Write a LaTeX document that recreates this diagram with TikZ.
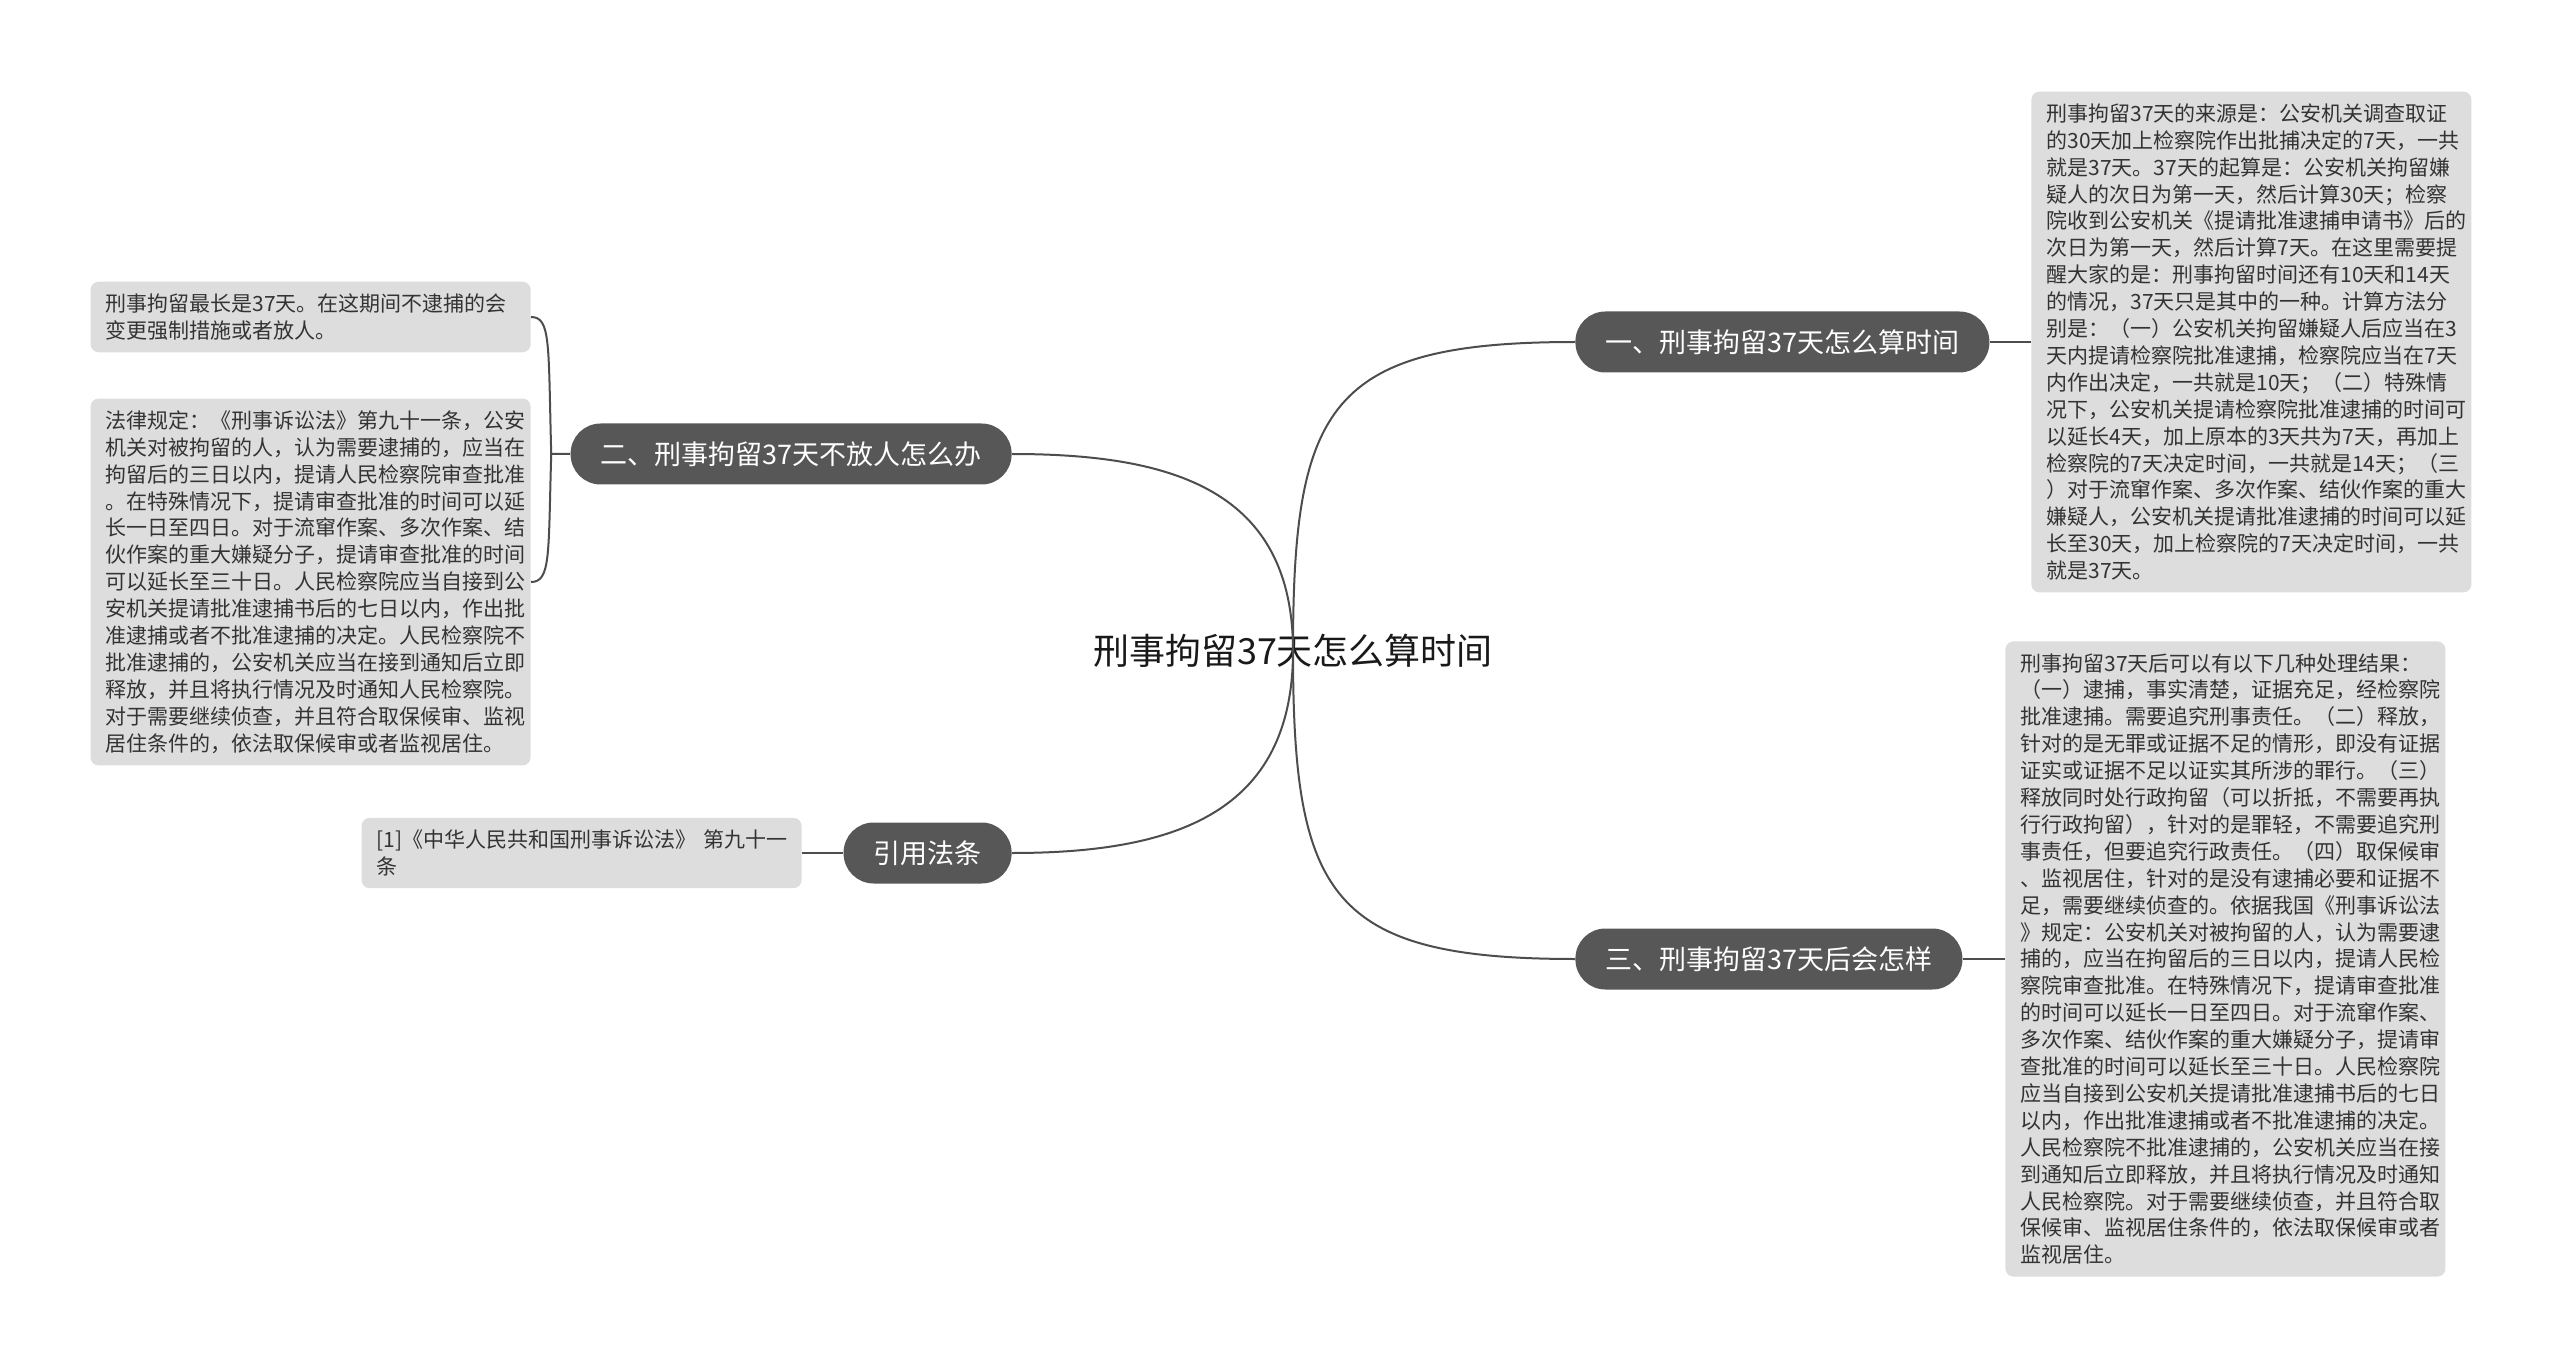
\documentclass[tikz,border=0pt]{standalone}
\usepackage{fontspec}
\setmainfont{Noto Sans CJK SC}
\usepackage{tikz}
\usetikzlibrary{positioning}

\definecolor{topicgray}{HTML}{575757}
\definecolor{leafgray}{HTML}{DDDDDD}
\definecolor{leaftext}{HTML}{333333}
\definecolor{linkgray}{HTML}{4D4D4D}

\begin{document}
\begin{tikzpicture}[x=0.5pt,y=0.5pt,
							topic/.style={fill=topicgray,text=white,rounded corners=15pt,inner xsep=15pt,inner ysep=0pt,minimum height=30.5pt,font=\fontsize{13.5}{16}\selectfont},
							leaf/.style={fill=leafgray,text=leaftext,rounded corners=4pt,text width=205pt,align=left,inner xsep=7.5pt,inner ysep=6pt,font=\fontsize{10.5}{13.45}\selectfont},
							link/.style={draw=linkgray,line width=1pt}]
			\useasboundingbox (0,0) rectangle (2560,-1369);
			% root
			\node[text=black!90,font=\fontsize{18}{22}\selectfont] (root) at (1293,-651) {刑事拘留37天怎么算时间};
			% main topics
			\node[topic,anchor=west] (t1) at (1575,-342) {一、刑事拘留37天怎么算时间};
			\node[topic,anchor=west] (t3) at (1575,-959) {三、刑事拘留37天后会怎样};
			\node[topic,anchor=east] (t2) at (1012,-454) {二、刑事拘留37天不放人怎么办};
			\node[topic,anchor=east] (tcite) at (1012,-853) {引用法条};
			% details
			\node[leaf,anchor=west] (r1) at (2031,-342) {刑事拘留37天的来源是：公安机关调查取证\\的30天加上检察院作出批捕决定的7天，一共\\就是37天。37天的起算是：公安机关拘留嫌\\疑人的次日为第一天，然后计算30天；检察\\院收到公安机关《提请批准逮捕申请书》后的\\次日为第一天，然后计算7天。在这里需要提\\醒大家的是：刑事拘留时间还有10天和14天\\的情况，37天只是其中的一种。计算方法分\\别是：（一）公安机关拘留嫌疑人后应当在3\\天内提请检察院批准逮捕，检察院应当在7天\\内作出决定，一共就是10天；（二）特殊情\\况下，公安机关提请检察院批准逮捕的时间可\\以延长4天，加上原本的3天共为7天，再加上\\检察院的7天决定时间，一共就是14天；（三\\）对于流窜作案、多次作案、结伙作案的重大\\嫌疑人，公安机关提请批准逮捕的时间可以延\\长至30天，加上检察院的7天决定时间，一共\\就是37天。};
			\node[leaf,anchor=west] (r3) at (2005,-959) {刑事拘留37天后可以有以下几种处理结果：\\（一）逮捕，事实清楚，证据充足，经检察院\\批准逮捕。需要追究刑事责任。（二）释放，\\针对的是无罪或证据不足的情形，即没有证据\\证实或证据不足以证实其所涉的罪行。（三）\\释放同时处行政拘留（可以折抵，不需要再执\\行行政拘留），针对的是罪轻，不需要追究刑\\事责任，但要追究行政责任。（四）取保候审\\、监视居住，针对的是没有逮捕必要和证据不\\足，需要继续侦查的。依据我国《刑事诉讼法\\》规定：公安机关对被拘留的人，认为需要逮\\捕的，应当在拘留后的三日以内，提请人民检\\察院审查批准。在特殊情况下，提请审查批准\\的时间可以延长一日至四日。对于流窜作案、\\多次作案、结伙作案的重大嫌疑分子，提请审\\查批准的时间可以延长至三十日。人民检察院\\应当自接到公安机关提请批准逮捕书后的七日\\以内，作出批准逮捕或者不批准逮捕的决定。\\人民检察院不批准逮捕的，公安机关应当在接\\到通知后立即释放，并且将执行情况及时通知\\人民检察院。对于需要继续侦查，并且符合取\\保候审、监视居住条件的，依法取保候审或者\\监视居住。};
			\node[leaf,anchor=east] (l1) at (531,-317) {刑事拘留最长是37天。在这期间不逮捕的会\\变更强制措施或者放人。};
			\node[leaf,anchor=east] (l2) at (531,-582) {法律规定：《刑事诉讼法》第九十一条，公安\\机关对被拘留的人，认为需要逮捕的，应当在\\拘留后的三日以内，提请人民检察院审查批准\\。在特殊情况下，提请审查批准的时间可以延\\长一日至四日。对于流窜作案、多次作案、结\\伙作案的重大嫌疑分子，提请审查批准的时间\\可以延长至三十日。人民检察院应当自接到公\\安机关提请批准逮捕书后的七日以内，作出批\\准逮捕或者不批准逮捕的决定。人民检察院不\\批准逮捕的，公安机关应当在接到通知后立即\\释放，并且将执行情况及时通知人民检察院。\\对于需要继续侦查，并且符合取保候审、监视\\居住条件的，依法取保候审或者监视居住。};
			\node[leaf,anchor=east] (lcite) at (802,-853) {[1]《中华人民共和国刑事诉讼法》~第九十一\\条};
			% connectors
			\draw[link] (root.center) to[out=90,in=180,looseness=1.5] (t1.west);
			\draw[link] (root.center) to[out=-90,in=180,looseness=1.5] (t3.west);
			\draw[link] (root.center) to[out=90,in=0,looseness=1.2] (t2.east);
			\draw[link] (root.center) to[out=-90,in=0,looseness=1.2] (tcite.east);
			\draw[link] (t1.east) -- (r1.west);
			\draw[link] (t3.east) -- (r3.west);
			\draw[link] (tcite.west) -- (lcite.east);
			\coordinate[left=9.5pt of t2.west] (fork);
			\draw[link] (t2.west) -- (fork) .. controls +(-3,110) and +(20,0) .. (l1.east);
			\draw[link] (fork) .. controls +(-3,-100) and +(20,0) .. (l2.east);
		\end{tikzpicture}
\end{document}
